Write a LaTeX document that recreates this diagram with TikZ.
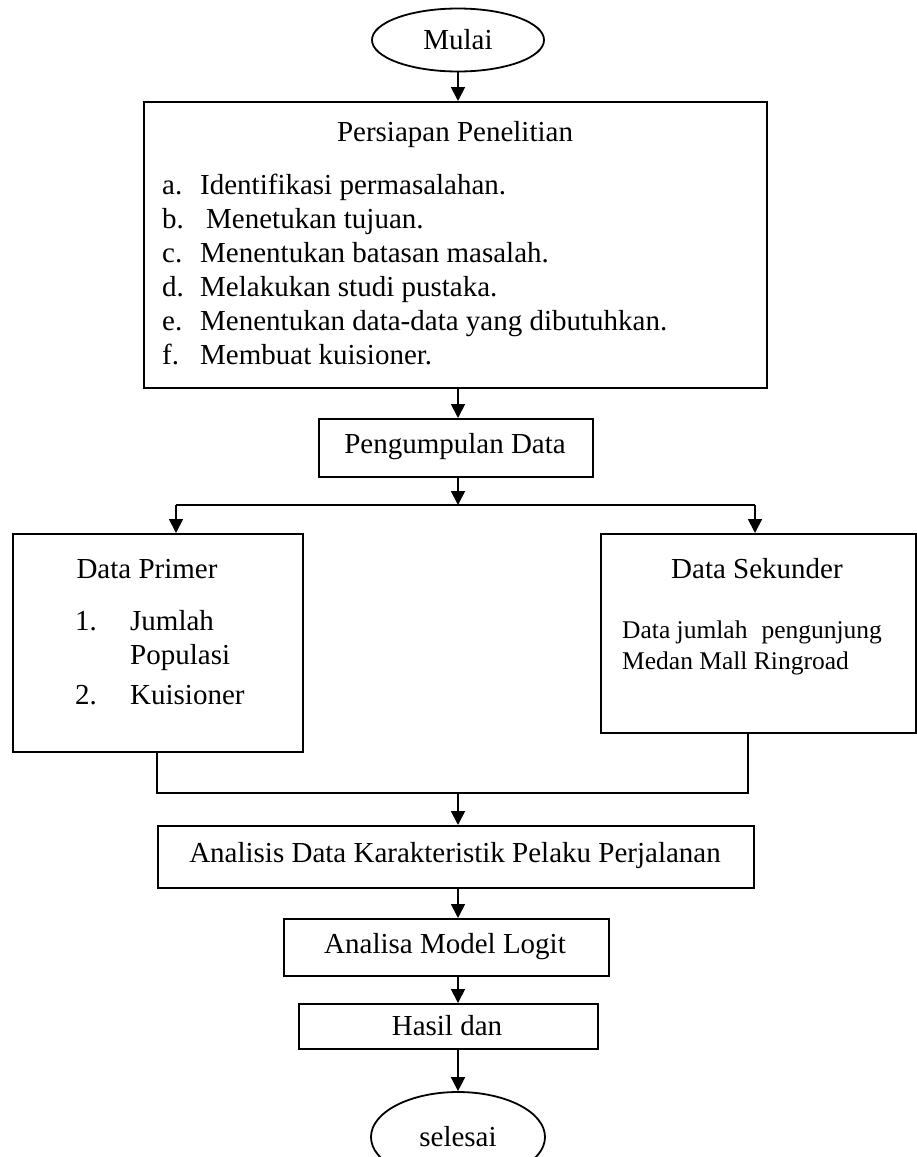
\documentclass[tikz,border=0pt]{standalone}
\usepackage{fontspec}
\setmainfont{Liberation Serif}
\usetikzlibrary{shapes.geometric,arrows.meta}
\newcommand{\itemlabel}[2][38pt]{\makebox[#1][l]{#2}}
\begin{document}
\begin{tikzpicture}[x=1pt,y=-1pt,
  every node/.style={font=\fontsize{29}{34}\selectfont},
  box/.style={draw,line width=1.8pt,rectangle,inner sep=0pt,anchor=north west},
  term/.style={draw,line width=1.8pt,ellipse,inner sep=0pt},
  txt/.style={inner sep=0pt,anchor=base west},
  small/.style={font=\fontsize{25.5}{30}\selectfont},
  flow/.style={line width=1.8pt,-{Triangle[length=14pt,width=14pt]}},
  link/.style={line width=1.8pt}]
\useasboundingbox (0,0) rectangle (916,1157);

% terminals
\node[term,minimum width=172pt,minimum height=63pt] (start) at (458,40) {Mulai};
\node[term,minimum width=174pt,minimum height=90pt] (stop) at (458,1137) {selesai};

% preparation box
\node[box,minimum width=623pt,minimum height=286pt] (prep) at (143,101) {};
\node[inner sep=0pt,anchor=base] (preptitle) at (455,141) {Persiapan Penelitian};
\node[txt] (pa) at (162,194) {\itemlabel{a.}Identifikasi permasalahan.};
\node[txt] (pb) at (162,228) {\itemlabel[44pt]{b.}Menetukan tujuan.};
\node[txt] (pc) at (162,262) {\itemlabel{c.}Menentukan batasan masalah.};
\node[txt] (pd) at (162,296) {\itemlabel{d.}Melakukan studi pustaka.};
\node[txt] (pe) at (162,330) {\itemlabel{e.}Menentukan data-data yang dibutuhkan.};
\node[txt] (pf) at (162,364) {\itemlabel{f.}Membuat kuisioner.};

% data collection
\node[box,minimum width=274pt,minimum height=58pt] (collect) at (318,418) {};
\node[inner sep=0pt] (collecttxt) at (455,447) {Pengumpulan Data};

% primary data
\node[box,minimum width=290pt,minimum height=218pt] (primer) at (12,533) {};
\node[inner sep=0pt,anchor=base] (primertitle) at (147,578) {Data Primer};
\node[txt] (p1) at (75,630) {1.};
\node[txt] (p1a) at (130,630) {Jumlah};
\node[txt] (p1b) at (130,664) {Populasi};
\node[txt] (p2) at (75,704) {2.};
\node[txt] (p2a) at (130,704) {Kuisioner};

% secondary data
\node[box,minimum width=315pt,minimum height=199pt] (sekunder) at (600,533) {};
\node[inner sep=0pt,anchor=base] (sekundertitle) at (757,578) {Data Sekunder};
\node[txt,small] (s1) at (622,638) {Data jumlah\hspace{14pt}pengunjung};
\node[txt,small] (s2) at (622,669) {Medan Mall Ringroad};

% analysis steps
\node[box,minimum width=596pt,minimum height=62pt] (analisis) at (157,825) {};
\node[inner sep=0pt] (analisistxt) at (455,856) {Analisis Data Karakteristik Pelaku Perjalanan};
\node[box,minimum width=325pt,minimum height=57pt] (logit) at (283,918) {};
\node[inner sep=0pt] (logittxt) at (445,947) {Analisa Model Logit};
\node[box,minimum width=299pt,minimum height=45pt] (hasil) at (298,1003) {};
\node[inner sep=0pt] (hasiltxt) at (447,1026) {Hasil dan};

% split and merge points
\coordinate (split) at (458,505);
\coordinate (splitL) at (176,505);
\coordinate (splitR) at (755,505);
\coordinate (mergeL) at (157,793);
\coordinate (mergeR) at (748,793);
\coordinate (merge) at (458,793);

% connectors
\draw[flow] (start.south) -- (start.south |- prep.north);
\draw[flow] (458,387) -- (458,418);
\draw[flow] (458,476) -- (split);
\draw[link] (splitL) -- (splitR);
\draw[flow] (splitL) -- (splitL |- primer.north);
\draw[flow] (splitR) -- (splitR |- sekunder.north);
\draw[link] (mergeL |- primer.south) -- (mergeL) -- (mergeR) -- (mergeR |- sekunder.south);
\draw[flow] (merge) -- (merge |- analisis.north);
\draw[flow] (458,887) -- (458,918);
\draw[flow] (458,975) -- (458,1003);
\draw[flow] (458,1048) -- (stop.north);
\end{tikzpicture}
\end{document}
